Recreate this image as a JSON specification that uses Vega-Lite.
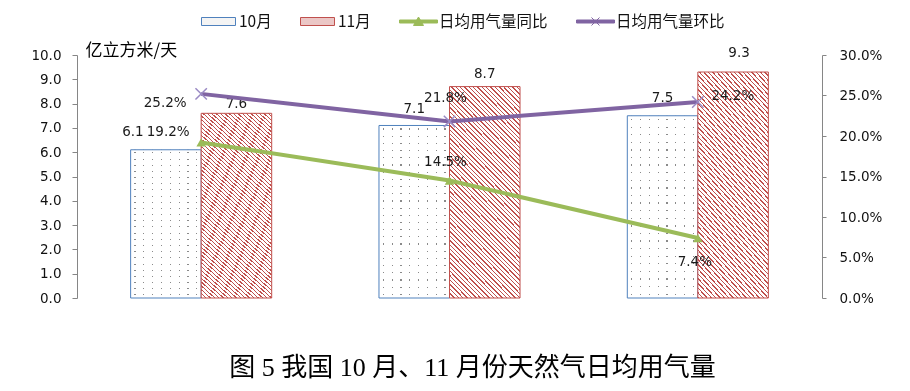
{
 "$schema": "https://vega.github.io/schema/vega-lite/v6.json",
 "width": 745, "height": 243,
 "autosize": {"type": "none"},
 "padding": {"left": 77, "top": 55, "right": 88, "bottom": 93},
 "background": "white",
 "config": {"view": {"stroke": null}, "axis": {"grid": false}},
 "title": {"text": "图 5 我国 10 月、11 月份天然气日均用气量", "orient": "bottom", "anchor": "middle", "offset": 50, "dx": 23, "font": "Liberation Serif, Noto Sans CJK SC", "fontSize": 26, "fontWeight": "normal", "color": "#000"},
 "data": {"values": [
  {"year": "2017年", "series": "10月", "value": 6.1},
  {"year": "2018年", "series": "10月", "value": 7.1},
  {"year": "2019年", "series": "10月", "value": 7.5},
  {"year": "2017年", "series": "11月", "value": 7.6},
  {"year": "2018年", "series": "11月", "value": 8.7},
  {"year": "2019年", "series": "11月", "value": 9.3},
  {"year": "2017年", "series": "日均用气量同比", "value": 0.192},
  {"year": "2018年", "series": "日均用气量同比", "value": 0.145},
  {"year": "2019年", "series": "日均用气量同比", "value": 0.074},
  {"year": "2017年", "series": "日均用气量环比", "value": 0.252},
  {"year": "2018年", "series": "日均用气量环比", "value": 0.218},
  {"year": "2019年", "series": "日均用气量环比", "value": 0.242}
 ]},
 "layer": [
  {
   "encoding": {
    "x": {"field": "year", "type": "nominal", "sort": null, "scale": {"type": "band", "paddingInner": 0.432, "paddingOuter": 0.216},
      "axis": {"title": null, "labelAngle": 0, "tickBand": "extent", "ticks": true, "tickSize": 6, "tickColor": "#868686", "domainColor": "#868686", "labelFont": "DejaVu Sans, Noto Sans CJK SC", "labelFontSize": 13.5, "labelColor": "#111", "labelPadding": 10}},
    "xOffset": {"field": "series", "type": "nominal", "scale": {"domain": ["10月", "11月"], "paddingInner": 0, "paddingOuter": 0}},
    "y": {"field": "value", "type": "quantitative", "scale": {"domain": [0, 10]},
      "axis": {"title": "亿立方米/天", "titleAngle": 0, "titleAlign": "left", "titleBaseline": "middle", "titleX": 8, "titleY": -5, "titleFont": "Noto Sans CJK SC", "titleFontSize": 17, "titleFontWeight": "normal", "titleColor": "#000",
        "values": [0, 1, 2, 3, 4, 5, 6, 7, 8, 9, 10], "format": ".1f", "labelFont": "DejaVu Sans", "labelFontSize": 13.5, "labelColor": "#111", "tickSize": 5, "tickColor": "#868686", "domainColor": "#868686", "labelPadding": 11}}
   },
   "layer": [
    {"transform": [{"filter": "datum.series === '10月'"}],
     "mark": {"type": "bar", "fill": {"gradient": "linear", "x1": 0, "y1": 0, "x2": 1, "y2": 0, "stops": [
      {"offset": 0, "color": "#fff"},
      {"offset": 0.054, "color": "#fff"}, {"offset": 0.054, "color": "#8a8a8a"}, {"offset": 0.071, "color": "#8a8a8a"}, {"offset": 0.071, "color": "#fff"},
      {"offset": 0.179, "color": "#fff"}, {"offset": 0.179, "color": "#8a8a8a"}, {"offset": 0.196, "color": "#8a8a8a"}, {"offset": 0.196, "color": "#fff"},
      {"offset": 0.304, "color": "#fff"}, {"offset": 0.304, "color": "#8a8a8a"}, {"offset": 0.321, "color": "#8a8a8a"}, {"offset": 0.321, "color": "#fff"},
      {"offset": 0.429, "color": "#fff"}, {"offset": 0.429, "color": "#8a8a8a"}, {"offset": 0.446, "color": "#8a8a8a"}, {"offset": 0.446, "color": "#fff"},
      {"offset": 0.554, "color": "#fff"}, {"offset": 0.554, "color": "#8a8a8a"}, {"offset": 0.571, "color": "#8a8a8a"}, {"offset": 0.571, "color": "#fff"},
      {"offset": 0.679, "color": "#fff"}, {"offset": 0.679, "color": "#8a8a8a"}, {"offset": 0.696, "color": "#8a8a8a"}, {"offset": 0.696, "color": "#fff"},
      {"offset": 0.804, "color": "#fff"}, {"offset": 0.804, "color": "#8a8a8a"}, {"offset": 0.821, "color": "#8a8a8a"}, {"offset": 0.821, "color": "#fff"},
      {"offset": 0.929, "color": "#fff"}, {"offset": 0.929, "color": "#8a8a8a"}, {"offset": 0.946, "color": "#8a8a8a"}, {"offset": 0.946, "color": "#fff"},
      {"offset": 1, "color": "#fff"}]}}},
    {"transform": [{"filter": "datum.series === '10月'"}],
     "mark": {"type": "bar", "blend": "lighten", "fill": {"gradient": "linear", "x1": 0, "y1": 0, "x2": 0, "y2": 1, "stops": [
      {"offset": 0, "color": "#fff"},
      {"offset": 0.0173, "color": "#fff"}, {"offset": 0.0173, "color": "#8a8a8a"}, {"offset": 0.0243, "color": "#8a8a8a"}, {"offset": 0.0243, "color": "#fff"},
      {"offset": 0.059, "color": "#fff"}, {"offset": 0.059, "color": "#8a8a8a"}, {"offset": 0.066, "color": "#8a8a8a"}, {"offset": 0.066, "color": "#fff"},
      {"offset": 0.1007, "color": "#fff"}, {"offset": 0.1007, "color": "#8a8a8a"}, {"offset": 0.1077, "color": "#8a8a8a"}, {"offset": 0.1077, "color": "#fff"},
      {"offset": 0.1423, "color": "#fff"}, {"offset": 0.1423, "color": "#8a8a8a"}, {"offset": 0.1493, "color": "#8a8a8a"}, {"offset": 0.1493, "color": "#fff"},
      {"offset": 0.184, "color": "#fff"}, {"offset": 0.184, "color": "#8a8a8a"}, {"offset": 0.191, "color": "#8a8a8a"}, {"offset": 0.191, "color": "#fff"},
      {"offset": 0.2257, "color": "#fff"}, {"offset": 0.2257, "color": "#8a8a8a"}, {"offset": 0.2327, "color": "#8a8a8a"}, {"offset": 0.2327, "color": "#fff"},
      {"offset": 0.2673, "color": "#fff"}, {"offset": 0.2673, "color": "#8a8a8a"}, {"offset": 0.2743, "color": "#8a8a8a"}, {"offset": 0.2743, "color": "#fff"},
      {"offset": 0.309, "color": "#fff"}, {"offset": 0.309, "color": "#8a8a8a"}, {"offset": 0.316, "color": "#8a8a8a"}, {"offset": 0.316, "color": "#fff"},
      {"offset": 0.3507, "color": "#fff"}, {"offset": 0.3507, "color": "#8a8a8a"}, {"offset": 0.3577, "color": "#8a8a8a"}, {"offset": 0.3577, "color": "#fff"},
      {"offset": 0.3923, "color": "#fff"}, {"offset": 0.3923, "color": "#8a8a8a"}, {"offset": 0.3993, "color": "#8a8a8a"}, {"offset": 0.3993, "color": "#fff"},
      {"offset": 0.434, "color": "#fff"}, {"offset": 0.434, "color": "#8a8a8a"}, {"offset": 0.441, "color": "#8a8a8a"}, {"offset": 0.441, "color": "#fff"},
      {"offset": 0.4757, "color": "#fff"}, {"offset": 0.4757, "color": "#8a8a8a"}, {"offset": 0.4827, "color": "#8a8a8a"}, {"offset": 0.4827, "color": "#fff"},
      {"offset": 0.5173, "color": "#fff"}, {"offset": 0.5173, "color": "#8a8a8a"}, {"offset": 0.5243, "color": "#8a8a8a"}, {"offset": 0.5243, "color": "#fff"},
      {"offset": 0.559, "color": "#fff"}, {"offset": 0.559, "color": "#8a8a8a"}, {"offset": 0.566, "color": "#8a8a8a"}, {"offset": 0.566, "color": "#fff"},
      {"offset": 0.6007, "color": "#fff"}, {"offset": 0.6007, "color": "#8a8a8a"}, {"offset": 0.6077, "color": "#8a8a8a"}, {"offset": 0.6077, "color": "#fff"},
      {"offset": 0.6423, "color": "#fff"}, {"offset": 0.6423, "color": "#8a8a8a"}, {"offset": 0.6493, "color": "#8a8a8a"}, {"offset": 0.6493, "color": "#fff"},
      {"offset": 0.684, "color": "#fff"}, {"offset": 0.684, "color": "#8a8a8a"}, {"offset": 0.691, "color": "#8a8a8a"}, {"offset": 0.691, "color": "#fff"},
      {"offset": 0.7257, "color": "#fff"}, {"offset": 0.7257, "color": "#8a8a8a"}, {"offset": 0.7327, "color": "#8a8a8a"}, {"offset": 0.7327, "color": "#fff"},
      {"offset": 0.7673, "color": "#fff"}, {"offset": 0.7673, "color": "#8a8a8a"}, {"offset": 0.7743, "color": "#8a8a8a"}, {"offset": 0.7743, "color": "#fff"},
      {"offset": 0.809, "color": "#fff"}, {"offset": 0.809, "color": "#8a8a8a"}, {"offset": 0.816, "color": "#8a8a8a"}, {"offset": 0.816, "color": "#fff"},
      {"offset": 0.8507, "color": "#fff"}, {"offset": 0.8507, "color": "#8a8a8a"}, {"offset": 0.8577, "color": "#8a8a8a"}, {"offset": 0.8577, "color": "#fff"},
      {"offset": 0.8923, "color": "#fff"}, {"offset": 0.8923, "color": "#8a8a8a"}, {"offset": 0.8993, "color": "#8a8a8a"}, {"offset": 0.8993, "color": "#fff"},
      {"offset": 0.934, "color": "#fff"}, {"offset": 0.934, "color": "#8a8a8a"}, {"offset": 0.941, "color": "#8a8a8a"}, {"offset": 0.941, "color": "#fff"},
      {"offset": 0.9757, "color": "#fff"}, {"offset": 0.9757, "color": "#8a8a8a"}, {"offset": 0.9827, "color": "#8a8a8a"}, {"offset": 0.9827, "color": "#fff"},
      {"offset": 1, "color": "#fff"}]}}},
    {"transform": [{"filter": "datum.series === '10月'"}],
     "mark": {"type": "bar", "fill": "transparent", "stroke": "#4F81BD", "strokeWidth": 1}},
    {"transform": [{"filter": "datum.series === '11月'"}],
     "mark": {"type": "bar", "stroke": "#C0504D", "strokeWidth": 1, "fill": {"gradient": "linear", "x1": 0, "y1": 1, "x2": 0.4071, "y2": -0.201, "stops": [
      {"offset": 0, "color": "#C0504D"}, {"offset": 0.005, "color": "#C0504D"}, {"offset": 0.005, "color": "#fff"}, {"offset": 0.015625, "color": "#fff"},
      {"offset": 0.015625, "color": "#C0504D"}, {"offset": 0.020625, "color": "#C0504D"}, {"offset": 0.020625, "color": "#fff"}, {"offset": 0.03125, "color": "#fff"},
      {"offset": 0.03125, "color": "#C0504D"}, {"offset": 0.03625, "color": "#C0504D"}, {"offset": 0.03625, "color": "#fff"}, {"offset": 0.046875, "color": "#fff"},
      {"offset": 0.046875, "color": "#C0504D"}, {"offset": 0.051875, "color": "#C0504D"}, {"offset": 0.051875, "color": "#fff"}, {"offset": 0.0625, "color": "#fff"},
      {"offset": 0.0625, "color": "#C0504D"}, {"offset": 0.0675, "color": "#C0504D"}, {"offset": 0.0675, "color": "#fff"}, {"offset": 0.078125, "color": "#fff"},
      {"offset": 0.078125, "color": "#C0504D"}, {"offset": 0.083125, "color": "#C0504D"}, {"offset": 0.083125, "color": "#fff"}, {"offset": 0.09375, "color": "#fff"},
      {"offset": 0.09375, "color": "#C0504D"}, {"offset": 0.09875, "color": "#C0504D"}, {"offset": 0.09875, "color": "#fff"}, {"offset": 0.109375, "color": "#fff"},
      {"offset": 0.109375, "color": "#C0504D"}, {"offset": 0.114375, "color": "#C0504D"}, {"offset": 0.114375, "color": "#fff"}, {"offset": 0.125, "color": "#fff"},
      {"offset": 0.125, "color": "#C0504D"}, {"offset": 0.13, "color": "#C0504D"}, {"offset": 0.13, "color": "#fff"}, {"offset": 0.140625, "color": "#fff"},
      {"offset": 0.140625, "color": "#C0504D"}, {"offset": 0.145625, "color": "#C0504D"}, {"offset": 0.145625, "color": "#fff"}, {"offset": 0.15625, "color": "#fff"},
      {"offset": 0.15625, "color": "#C0504D"}, {"offset": 0.16125, "color": "#C0504D"}, {"offset": 0.16125, "color": "#fff"}, {"offset": 0.171875, "color": "#fff"},
      {"offset": 0.171875, "color": "#C0504D"}, {"offset": 0.176875, "color": "#C0504D"}, {"offset": 0.176875, "color": "#fff"}, {"offset": 0.1875, "color": "#fff"},
      {"offset": 0.1875, "color": "#C0504D"}, {"offset": 0.1925, "color": "#C0504D"}, {"offset": 0.1925, "color": "#fff"}, {"offset": 0.203125, "color": "#fff"},
      {"offset": 0.203125, "color": "#C0504D"}, {"offset": 0.208125, "color": "#C0504D"}, {"offset": 0.208125, "color": "#fff"}, {"offset": 0.21875, "color": "#fff"},
      {"offset": 0.21875, "color": "#C0504D"}, {"offset": 0.22375, "color": "#C0504D"}, {"offset": 0.22375, "color": "#fff"}, {"offset": 0.234375, "color": "#fff"},
      {"offset": 0.234375, "color": "#C0504D"}, {"offset": 0.239375, "color": "#C0504D"}, {"offset": 0.239375, "color": "#fff"}, {"offset": 0.25, "color": "#fff"},
      {"offset": 0.25, "color": "#C0504D"}, {"offset": 0.255, "color": "#C0504D"}, {"offset": 0.255, "color": "#fff"}, {"offset": 0.265625, "color": "#fff"},
      {"offset": 0.265625, "color": "#C0504D"}, {"offset": 0.270625, "color": "#C0504D"}, {"offset": 0.270625, "color": "#fff"}, {"offset": 0.28125, "color": "#fff"},
      {"offset": 0.28125, "color": "#C0504D"}, {"offset": 0.28625, "color": "#C0504D"}, {"offset": 0.28625, "color": "#fff"}, {"offset": 0.296875, "color": "#fff"},
      {"offset": 0.296875, "color": "#C0504D"}, {"offset": 0.301875, "color": "#C0504D"}, {"offset": 0.301875, "color": "#fff"}, {"offset": 0.3125, "color": "#fff"},
      {"offset": 0.3125, "color": "#C0504D"}, {"offset": 0.3175, "color": "#C0504D"}, {"offset": 0.3175, "color": "#fff"}, {"offset": 0.328125, "color": "#fff"},
      {"offset": 0.328125, "color": "#C0504D"}, {"offset": 0.333125, "color": "#C0504D"}, {"offset": 0.333125, "color": "#fff"}, {"offset": 0.34375, "color": "#fff"},
      {"offset": 0.34375, "color": "#C0504D"}, {"offset": 0.34875, "color": "#C0504D"}, {"offset": 0.34875, "color": "#fff"}, {"offset": 0.359375, "color": "#fff"},
      {"offset": 0.359375, "color": "#C0504D"}, {"offset": 0.364375, "color": "#C0504D"}, {"offset": 0.364375, "color": "#fff"}, {"offset": 0.375, "color": "#fff"},
      {"offset": 0.375, "color": "#C0504D"}, {"offset": 0.38, "color": "#C0504D"}, {"offset": 0.38, "color": "#fff"}, {"offset": 0.390625, "color": "#fff"},
      {"offset": 0.390625, "color": "#C0504D"}, {"offset": 0.395625, "color": "#C0504D"}, {"offset": 0.395625, "color": "#fff"}, {"offset": 0.40625, "color": "#fff"},
      {"offset": 0.40625, "color": "#C0504D"}, {"offset": 0.41125, "color": "#C0504D"}, {"offset": 0.41125, "color": "#fff"}, {"offset": 0.421875, "color": "#fff"},
      {"offset": 0.421875, "color": "#C0504D"}, {"offset": 0.426875, "color": "#C0504D"}, {"offset": 0.426875, "color": "#fff"}, {"offset": 0.4375, "color": "#fff"},
      {"offset": 0.4375, "color": "#C0504D"}, {"offset": 0.4425, "color": "#C0504D"}, {"offset": 0.4425, "color": "#fff"}, {"offset": 0.453125, "color": "#fff"},
      {"offset": 0.453125, "color": "#C0504D"}, {"offset": 0.458125, "color": "#C0504D"}, {"offset": 0.458125, "color": "#fff"}, {"offset": 0.46875, "color": "#fff"},
      {"offset": 0.46875, "color": "#C0504D"}, {"offset": 0.47375, "color": "#C0504D"}, {"offset": 0.47375, "color": "#fff"}, {"offset": 0.484375, "color": "#fff"},
      {"offset": 0.484375, "color": "#C0504D"}, {"offset": 0.489375, "color": "#C0504D"}, {"offset": 0.489375, "color": "#fff"}, {"offset": 0.5, "color": "#fff"},
      {"offset": 0.5, "color": "#C0504D"}, {"offset": 0.505, "color": "#C0504D"}, {"offset": 0.505, "color": "#fff"}, {"offset": 0.515625, "color": "#fff"},
      {"offset": 0.515625, "color": "#C0504D"}, {"offset": 0.520625, "color": "#C0504D"}, {"offset": 0.520625, "color": "#fff"}, {"offset": 0.53125, "color": "#fff"},
      {"offset": 0.53125, "color": "#C0504D"}, {"offset": 0.53625, "color": "#C0504D"}, {"offset": 0.53625, "color": "#fff"}, {"offset": 0.546875, "color": "#fff"},
      {"offset": 0.546875, "color": "#C0504D"}, {"offset": 0.551875, "color": "#C0504D"}, {"offset": 0.551875, "color": "#fff"}, {"offset": 0.5625, "color": "#fff"},
      {"offset": 0.5625, "color": "#C0504D"}, {"offset": 0.5675, "color": "#C0504D"}, {"offset": 0.5675, "color": "#fff"}, {"offset": 0.578125, "color": "#fff"},
      {"offset": 0.578125, "color": "#C0504D"}, {"offset": 0.583125, "color": "#C0504D"}, {"offset": 0.583125, "color": "#fff"}, {"offset": 0.59375, "color": "#fff"},
      {"offset": 0.59375, "color": "#C0504D"}, {"offset": 0.59875, "color": "#C0504D"}, {"offset": 0.59875, "color": "#fff"}, {"offset": 0.609375, "color": "#fff"},
      {"offset": 0.609375, "color": "#C0504D"}, {"offset": 0.614375, "color": "#C0504D"}, {"offset": 0.614375, "color": "#fff"}, {"offset": 0.625, "color": "#fff"},
      {"offset": 0.625, "color": "#C0504D"}, {"offset": 0.63, "color": "#C0504D"}, {"offset": 0.63, "color": "#fff"}, {"offset": 0.640625, "color": "#fff"},
      {"offset": 0.640625, "color": "#C0504D"}, {"offset": 0.645625, "color": "#C0504D"}, {"offset": 0.645625, "color": "#fff"}, {"offset": 0.65625, "color": "#fff"},
      {"offset": 0.65625, "color": "#C0504D"}, {"offset": 0.66125, "color": "#C0504D"}, {"offset": 0.66125, "color": "#fff"}, {"offset": 0.671875, "color": "#fff"},
      {"offset": 0.671875, "color": "#C0504D"}, {"offset": 0.676875, "color": "#C0504D"}, {"offset": 0.676875, "color": "#fff"}, {"offset": 0.6875, "color": "#fff"},
      {"offset": 0.6875, "color": "#C0504D"}, {"offset": 0.6925, "color": "#C0504D"}, {"offset": 0.6925, "color": "#fff"}, {"offset": 0.703125, "color": "#fff"},
      {"offset": 0.703125, "color": "#C0504D"}, {"offset": 0.708125, "color": "#C0504D"}, {"offset": 0.708125, "color": "#fff"}, {"offset": 0.71875, "color": "#fff"},
      {"offset": 0.71875, "color": "#C0504D"}, {"offset": 0.72375, "color": "#C0504D"}, {"offset": 0.72375, "color": "#fff"}, {"offset": 0.734375, "color": "#fff"},
      {"offset": 0.734375, "color": "#C0504D"}, {"offset": 0.739375, "color": "#C0504D"}, {"offset": 0.739375, "color": "#fff"}, {"offset": 0.75, "color": "#fff"},
      {"offset": 0.75, "color": "#C0504D"}, {"offset": 0.755, "color": "#C0504D"}, {"offset": 0.755, "color": "#fff"}, {"offset": 0.765625, "color": "#fff"},
      {"offset": 0.765625, "color": "#C0504D"}, {"offset": 0.770625, "color": "#C0504D"}, {"offset": 0.770625, "color": "#fff"}, {"offset": 0.78125, "color": "#fff"},
      {"offset": 0.78125, "color": "#C0504D"}, {"offset": 0.78625, "color": "#C0504D"}, {"offset": 0.78625, "color": "#fff"}, {"offset": 0.796875, "color": "#fff"},
      {"offset": 0.796875, "color": "#C0504D"}, {"offset": 0.801875, "color": "#C0504D"}, {"offset": 0.801875, "color": "#fff"}, {"offset": 0.8125, "color": "#fff"},
      {"offset": 0.8125, "color": "#C0504D"}, {"offset": 0.8175, "color": "#C0504D"}, {"offset": 0.8175, "color": "#fff"}, {"offset": 0.828125, "color": "#fff"},
      {"offset": 0.828125, "color": "#C0504D"}, {"offset": 0.833125, "color": "#C0504D"}, {"offset": 0.833125, "color": "#fff"}, {"offset": 0.84375, "color": "#fff"},
      {"offset": 0.84375, "color": "#C0504D"}, {"offset": 0.84875, "color": "#C0504D"}, {"offset": 0.84875, "color": "#fff"}, {"offset": 0.859375, "color": "#fff"},
      {"offset": 0.859375, "color": "#C0504D"}, {"offset": 0.864375, "color": "#C0504D"}, {"offset": 0.864375, "color": "#fff"}, {"offset": 0.875, "color": "#fff"},
      {"offset": 0.875, "color": "#C0504D"}, {"offset": 0.88, "color": "#C0504D"}, {"offset": 0.88, "color": "#fff"}, {"offset": 0.890625, "color": "#fff"},
      {"offset": 0.890625, "color": "#C0504D"}, {"offset": 0.895625, "color": "#C0504D"}, {"offset": 0.895625, "color": "#fff"}, {"offset": 0.90625, "color": "#fff"},
      {"offset": 0.90625, "color": "#C0504D"}, {"offset": 0.91125, "color": "#C0504D"}, {"offset": 0.91125, "color": "#fff"}, {"offset": 0.921875, "color": "#fff"},
      {"offset": 0.921875, "color": "#C0504D"}, {"offset": 0.926875, "color": "#C0504D"}, {"offset": 0.926875, "color": "#fff"}, {"offset": 0.9375, "color": "#fff"},
      {"offset": 0.9375, "color": "#C0504D"}, {"offset": 0.9425, "color": "#C0504D"}, {"offset": 0.9425, "color": "#fff"}, {"offset": 0.953125, "color": "#fff"},
      {"offset": 0.953125, "color": "#C0504D"}, {"offset": 0.958125, "color": "#C0504D"}, {"offset": 0.958125, "color": "#fff"}, {"offset": 0.96875, "color": "#fff"},
      {"offset": 0.96875, "color": "#C0504D"}, {"offset": 0.97375, "color": "#C0504D"}, {"offset": 0.97375, "color": "#fff"}, {"offset": 0.984375, "color": "#fff"},
      {"offset": 0.984375, "color": "#C0504D"}, {"offset": 0.989375, "color": "#C0504D"}, {"offset": 0.989375, "color": "#fff"}, {"offset": 1, "color": "#fff"}]}}},
    {"transform": [{"filter": "datum.series === '10月' || datum.series === '11月'"}],
     "mark": {"type": "text", "font": "DejaVu Sans", "fontSize": 13.5, "color": "#1a1a1a", "align": "center", "baseline": "middle",
       "dx": {"expr": "datum.series === '10月' && datum.year === '2017年' ? -33 : (datum.series === '11月' && datum.year === '2019年' ? 6 : 0)"},
       "dy": {"expr": "datum.series === '10月' ? (datum.year === '2018年' ? -16 : -18) : (datum.year === '2017年' ? -9 : (datum.year === '2018年' ? -13 : -19))"}},
     "encoding": {"text": {"field": "value", "type": "quantitative", "format": ".1f"}}}
   ]
  },
  {
   "encoding": {
    "x": {"field": "year", "type": "nominal", "sort": null, "scale": {"type": "band"}, "axis": null},
    "y": {"field": "value", "type": "quantitative", "scale": {"domain": [0, 0.3]},
      "axis": {"orient": "right", "title": null, "values": [0, 0.05, 0.1, 0.15, 0.2, 0.25, 0.3], "format": ".1%", "labelFont": "DejaVu Sans", "labelFontSize": 13.5, "labelColor": "#111", "tickSize": 4, "tickColor": "#868686", "domainColor": "#868686", "labelPadding": 13}}
   },
   "layer": [
    {"transform": [{"filter": "datum.series === '日均用气量同比'"}],
     "mark": {"type": "line", "color": "#9BBB59", "strokeWidth": 4}},
    {"transform": [{"filter": "datum.series === '日均用气量同比'"}],
     "mark": {"type": "point", "shape": "triangle-up", "filled": true, "color": "#9BBB59", "size": 90, "opacity": 1}},
    {"transform": [{"filter": "datum.series === '日均用气量环比'"}],
     "mark": {"type": "line", "color": "#8064A2", "strokeWidth": 4}},
    {"transform": [{"filter": "datum.series === '日均用气量环比'"}],
     "mark": {"type": "point", "shape": "M-1,-1L1,1M-1,1L1,-1", "filled": false, "color": "#9A8AC4", "strokeWidth": 1.5, "size": 130, "opacity": 1}},
    {"transform": [{"filter": "datum.series === '日均用气量同比' || datum.series === '日均用气量环比'"}],
     "mark": {"type": "text", "font": "DejaVu Sans", "fontSize": 13.5, "color": "#1a1a1a", "align": "center", "baseline": "middle",
       "dx": {"expr": "datum.year === '2017年' ? (datum.series === '日均用气量同比' ? -33 : -36) : (datum.year === '2018年' ? -4 : (datum.series === '日均用气量同比' ? -3 : 35))"},
       "dy": {"expr": "datum.series === '日均用气量同比' ? (datum.year === '2017年' ? -10 : (datum.year === '2018年' ? -19 : 24)) : (datum.year === '2017年' ? 9 : (datum.year === '2018年' ? -23 : -6))"}},
     "encoding": {"text": {"field": "value", "type": "quantitative", "format": ".1%"}}},
    {"transform": [{"filter": "datum.series === '日均用气量同比' || datum.series === '日均用气量环比'"}],
     "mark": {"type": "point", "opacity": 0, "filled": true},
     "encoding": {
       "fill": {"field": "series", "type": "nominal",
         "scale": {"domain": ["10月", "11月", "日均用气量同比", "日均用气量环比"], "range": ["#f4f4f4", "#ebc7c6", "#9BBB59", "#8064A2"]},
         "legend": {"orient": "none", "legendX": 131, "legendY": -44, "direction": "horizontal", "title": null, "symbolSize": 400, "symbolStrokeWidth": 1, "symbolOpacity": 1,
           "labelFont": "Noto Sans CJK SC", "labelFontSize": 15.5, "labelColor": "#111", "labelOffset": 10, "columnPadding": 26}},
       "stroke": {"field": "series", "type": "nominal",
         "scale": {"domain": ["10月", "11月", "日均用气量同比", "日均用气量环比"], "range": ["#4F81BD", "#C0504D", "#9BBB59", "#8064A2"]},
         "legend": {"orient": "none", "legendX": 131, "legendY": -44, "direction": "horizontal", "title": null, "symbolSize": 400, "symbolStrokeWidth": 1, "symbolOpacity": 1,
           "labelFont": "Noto Sans CJK SC", "labelFontSize": 15.5, "labelColor": "#111", "labelOffset": 10, "columnPadding": 26}},
       "shape": {"field": "series", "type": "nominal",
         "scale": {"domain": ["10月", "11月", "日均用气量同比", "日均用气量环比"], "range": [
           "M-1.7,-0.4H1.7V0.4H-1.7Z",
           "M-1.7,-0.4H1.7V0.4H-1.7Z",
           "M-1.9,-0.15H1.9V0.15H-1.9ZM-0.5,0.4L0,-0.45L0.5,0.4Z",
           "M-1.9,-0.15H1.9V0.15H-1.9ZM-0.4,-0.4L0.4,0.4M-0.4,0.4L0.4,-0.4"]},
         "legend": {"orient": "none", "legendX": 131, "legendY": -44, "direction": "horizontal", "title": null, "symbolSize": 400, "symbolStrokeWidth": 1, "symbolOpacity": 1,
           "labelFont": "Noto Sans CJK SC", "labelFontSize": 15.5, "labelColor": "#111", "labelOffset": 10, "columnPadding": 26}}
     }}
   ]
  }
 ],
 "resolve": {"scale": {"y": "independent"}}
}
